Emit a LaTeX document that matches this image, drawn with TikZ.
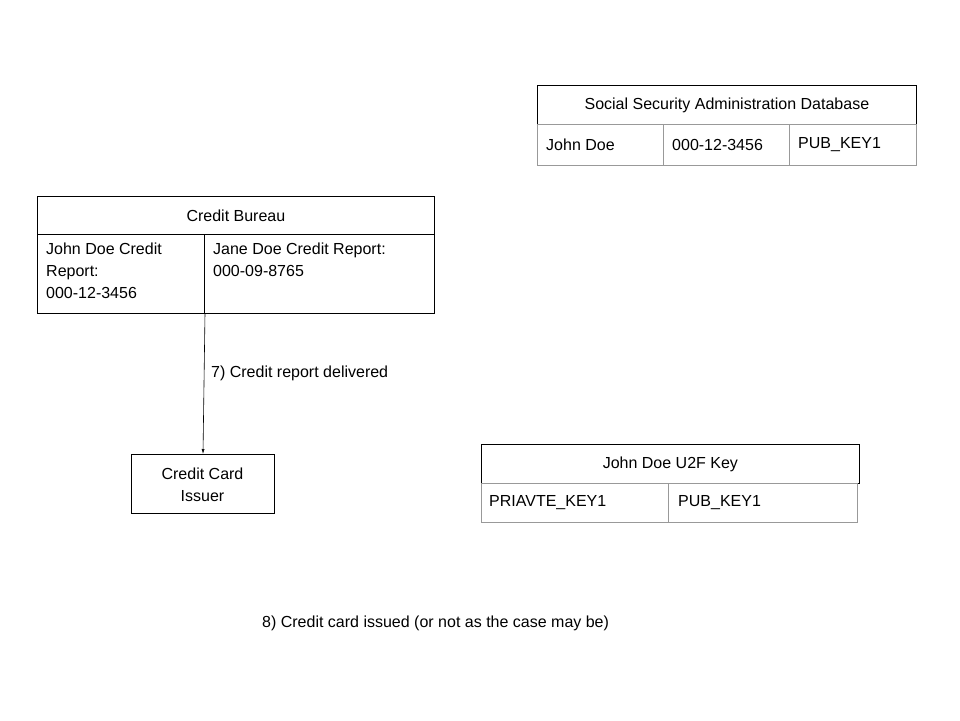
\documentclass[tikz,border=0pt]{standalone}
\usepackage{fontspec}
\setmainfont{Liberation Sans}
\usetikzlibrary{arrows.meta}
\begin{document}
\begin{tikzpicture}[x=1pt,y=-1pt,
  font=\fontsize{16}{22}\selectfont,
  hdr/.style={draw=black,line width=0.8pt},
  cell/.style={draw=black!40,line width=0.8pt},
  cellb/.style={draw=black,line width=0.8pt},
  lbl/.style={anchor=north west,align=left,inner sep=0pt},
  ctr/.style={anchor=center,align=center,inner sep=0pt}]
\useasboundingbox (0,0) rectangle (960,720);
% SSA
\node[hdr,minimum width=379pt,minimum height=39pt,anchor=north west] (ssa) at (537,85) {Social Security Administration Database};
\node[cell,minimum width=126pt,minimum height=41pt,anchor=north west] (s1) at (537,124) {};
\node[cell,minimum width=126pt,minimum height=41pt,anchor=north west] (s2) at (663,124) {};
\node[cell,minimum width=127pt,minimum height=41pt,anchor=north west] (s3) at (789,124) {};
\node[lbl,anchor=west] (s1t) at (546,144.5) {John Doe};
\node[lbl,anchor=west] (s2t) at (672,144.5) {000-12-3456};
\node[lbl,anchor=west] (s3t) at (798,144.5) {PUB\_KEY1};
% Credit bureau
\node[cellb,minimum width=397pt,minimum height=38pt,anchor=north west] (cb) at (37,196) {Credit Bureau};
\node[cellb,minimum width=167pt,minimum height=79pt,anchor=north west] (cb1) at (37,234) {};
\node[cellb,minimum width=230pt,minimum height=79pt,anchor=north west] (cb2) at (204,234) {};
\node[lbl] (cb1t) at (46,243) {John Doe Credit\\Report:\\000-12-3456};
\node[lbl] (cb2t) at (213,243) {Jane Doe Credit Report:\\000-09-8765};
% issuer
\node[cellb,minimum width=143pt,minimum height=59pt,ctr,anchor=north west] (cci) at (131,454) {};
\node[ctr] (ccit) at (202.5,484.5) {Credit Card\\Issuer};
\coordinate (a1) at (205,313);
\coordinate (a2) at (203,454);
\draw[-{Latex[length=5pt,width=3pt]},line width=0.6pt] (a1) -- (a2);
\node[lbl,anchor=west] (l7) at (211,373) {7) Credit report delivered};
% U2F
\node[hdr,minimum width=378pt,minimum height=39pt,anchor=north west] (u2f) at (481,444) {John Doe U2F Key};
\node[cell,minimum width=187pt,minimum height=39pt,anchor=north west] (u1) at (481,483) {};
\node[cell,minimum width=189pt,minimum height=39pt,anchor=north west] (u2) at (668,483) {};
\node[lbl,anchor=west] (u1t) at (489,502.5) {PRIAVTE\_KEY1};
\node[lbl,anchor=west] (u2t) at (678,502.5) {PUB\_KEY1};
\node[lbl,anchor=west] (l8) at (262,623) {8) Credit card issued (or not as the case may be)};
\end{tikzpicture}
\end{document}
